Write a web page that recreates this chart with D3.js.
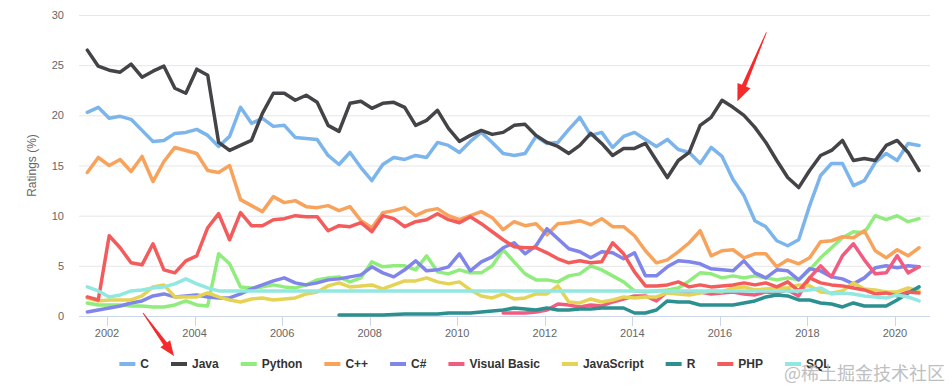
<!DOCTYPE html>
<head>
<meta charset="utf-8" />
<style>
  body { margin: 0; background: #fff; font-family: "Liberation Sans", Arial, sans-serif; }
  svg { display: block; }
  .axis-label { font-size: 11px; fill: #666; }
  .legend-text { font-size: 12px; font-weight: bold; fill: #333; }
</style>
</head>
<body>
<div id="chart-area"></div>
<script src="https://d3js.org/d3.v7.min.js"></script>
<script>
// TIOBE ratings (%), one value per quarter, June 2001 .. June 2020
const languages = ['C', 'Java', 'Python', 'C++', 'C#', 'Visual Basic', 'JavaScript', 'R', 'PHP', 'SQL'];
const colors = ['#7cb5ec', '#434348', '#90ed7d', '#f7a35c', '#8085e9', '#f15c80', '#e4d354', '#2b908f', '#f45b5b', '#91e8e1'];
const firstQuarter = 2001.55;
const quarterCount = 77;

const cRatings = [20.3,20.8,19.7,19.9,19.6,18.5,17.4,17.5,18.2,18.3,
  18.6,18.0,16.9,17.9,20.8,19.2,19.7,18.9,19.0,17.8,
  17.7,17.6,16.0,15.1,16.3,14.8,13.5,15.1,15.8,15.6,
  16.0,15.8,17.3,17.0,16.3,17.4,18.3,17.3,16.2,16.0,
  16.2,17.9,17.2,17.3,18.6,19.8,18.0,18.3,16.8,17.9,
  18.3,17.6,16.9,17.6,16.6,16.3,15.2,16.8,15.9,13.6,
  12.0,9.5,8.9,7.5,7.0,7.6,11.0,14.0,15.2,15.2,
  13.0,13.5,15.3,16.2,15.5,17.2,17.0];
const javaRatings = [26.5,24.9,24.5,24.3,25.1,23.8,24.4,24.9,22.7,22.2,
  24.6,24.0,17.3,16.5,17.0,17.5,20.2,22.2,22.2,21.5,
  22.0,21.3,19.0,18.4,21.2,21.4,20.7,21.2,21.3,20.8,
  19.0,19.5,20.5,18.7,17.4,18.0,18.5,18.1,18.3,19.0,
  19.1,18.0,17.3,16.9,16.2,17.0,18.2,17.2,16.0,16.7,
  16.7,17.2,15.5,13.8,15.5,16.3,19.0,19.8,21.5,20.8,
  20.0,18.8,17.3,15.5,13.8,12.8,14.5,16.0,16.5,17.5,
  15.5,15.7,15.5,17.0,17.5,16.3,14.5];
const pythonRatings = [1.3,1.1,1.1,1.1,1.0,1.0,0.9,0.9,1.1,1.5,
  1.1,1.0,6.2,5.2,2.9,2.8,2.9,3.1,2.9,2.8,
  3.1,3.6,3.8,3.9,3.4,3.8,5.4,4.9,5.0,5.0,
  4.6,6.0,4.4,4.2,4.6,4.3,4.3,5.0,6.6,5.4,
  4.2,3.6,3.6,3.4,4.0,4.2,5.0,4.6,4.0,3.4,
  2.5,2.4,2.5,2.6,2.8,3.5,4.3,4.2,3.8,4.0,
  3.8,4.0,3.8,3.6,3.8,3.6,4.6,5.8,6.8,7.8,
  8.4,8.3,10.0,9.6,10.0,9.4,9.7];
const cppRatings = [14.3,15.8,15.0,15.6,14.4,15.9,13.4,15.4,16.8,16.5,
  16.2,14.5,14.3,15.0,11.6,11.0,10.4,11.9,11.3,11.5,
  10.9,10.8,11.0,10.5,10.9,9.5,8.8,10.3,10.5,10.8,
  10.0,10.5,10.7,10.0,9.6,10.0,10.4,9.8,8.6,9.4,
  9.0,9.2,8.1,9.2,9.3,9.5,9.1,9.7,8.9,8.9,
  8.0,6.5,5.3,5.6,6.4,7.3,8.5,6.0,6.5,6.6,
  5.8,6.2,6.2,4.9,5.6,5.2,5.8,7.4,7.5,7.9,
  7.8,8.5,6.5,5.8,6.6,6.0,6.8];
const csharpRatings = [0.4,0.6,0.8,1.0,1.3,1.5,2.0,2.2,1.9,2.0,
  2.1,1.9,1.8,1.8,2.2,2.7,3.1,3.5,3.8,3.3,
  3.1,3.3,3.6,3.7,3.9,4.1,4.9,4.3,3.9,4.6,
  5.5,4.5,4.6,4.9,6.2,4.5,5.4,5.9,6.8,7.3,
  6.2,7.0,8.7,7.7,6.7,6.4,5.8,6.4,6.3,5.7,
  6.3,4.0,4.0,4.9,5.5,5.4,5.2,4.7,4.6,4.5,
  5.5,4.3,3.8,4.6,4.5,3.6,4.7,4.5,3.9,3.7,
  3.2,3.8,4.8,5.0,4.8,5.0,4.9];
const vbRatings = [null,null,null,null,null,null,null,null,null,null,
  null,null,null,null,null,null,null,null,null,null,
  null,null,null,null,null,null,null,null,null,null,
  null,null,null,null,null,null,null,null,0.3,0.3,
  0.3,0.4,0.6,1.2,1.1,0.9,1.1,1.0,1.4,1.7,
  2.0,2.0,1.5,2.4,2.3,2.2,2.4,2.2,2.3,2.4,
  2.2,2.1,2.4,2.3,2.6,2.0,3.8,5.0,3.9,6.0,
  7.2,5.6,4.2,4.3,6.0,4.3,4.9];
const jsRatings = [1.8,1.5,1.6,1.6,1.6,2.0,2.9,3.1,1.9,1.9,
  1.9,2.3,1.9,1.6,1.4,1.7,1.8,1.6,1.7,1.8,
  2.2,2.4,3.0,3.3,2.9,3.0,3.1,2.7,3.1,3.5,
  3.5,3.8,3.4,3.2,3.4,2.6,2.0,1.8,2.2,1.7,
  1.8,2.2,2.2,3.0,1.4,1.3,1.7,1.4,1.6,1.9,
  1.8,1.9,1.9,2.3,2.2,2.1,2.3,2.5,2.4,2.8,
  2.9,2.6,2.7,2.8,2.8,3.1,3.0,2.4,2.3,2.5,
  3.3,2.7,2.6,2.4,2.4,2.8,2.5];
const rRatings = [null,null,null,null,null,null,null,null,null,null,
  null,null,null,null,null,null,null,null,null,null,
  null,null,null,0.1,0.1,0.1,0.1,0.1,0.15,0.2,
  0.2,0.2,0.2,0.3,0.3,0.3,0.4,0.5,0.6,0.8,
  0.7,0.6,0.8,0.6,0.6,0.7,0.7,0.8,0.8,0.8,
  0.3,0.3,0.6,1.5,1.4,1.4,1.1,1.1,1.1,1.1,
  1.3,1.5,1.9,2.1,2.0,1.6,1.6,1.3,1.2,0.9,
  1.3,1.0,1.0,1.0,1.6,2.3,2.9];
const phpRatings = [1.9,1.6,8.0,6.8,5.3,5.1,7.2,4.6,4.3,5.5,
  6.0,8.8,10.2,7.6,10.3,9.0,9.0,9.6,9.7,10.0,
  9.9,9.9,8.5,9.0,8.9,9.3,8.4,10.0,9.7,8.9,
  9.4,9.6,10.2,9.6,9.3,9.9,9.2,8.4,7.6,6.9,
  6.8,6.8,6.3,5.7,5.3,5.5,5.3,5.4,7.3,6.2,
  4.4,3.0,3.0,3.1,3.4,2.9,3.1,2.9,3.0,3.1,
  3.3,3.1,3.3,2.9,3.4,2.5,3.8,3.3,3.1,3.0,
  2.8,2.6,2.2,2.3,2.0,2.4,2.3];
const sqlRatings = [2.9,2.5,1.9,2.1,2.5,2.6,2.8,2.9,3.2,3.7,
  3.2,2.8,2.5,2.5,2.5,2.5,2.5,2.5,2.5,2.5,
  2.5,2.5,2.5,2.5,2.5,2.5,2.5,2.5,2.5,2.5,
  2.5,2.5,2.5,2.5,2.5,2.5,2.5,2.5,2.5,2.5,
  2.5,2.5,2.5,2.5,2.5,2.5,2.5,2.5,2.5,2.5,
  2.5,2.5,2.5,2.5,2.5,2.5,2.5,2.5,2.5,2.5,
  2.5,2.5,2.5,2.5,2.5,2.5,2.6,2.8,2.2,2.3,
  2.2,2.0,1.9,1.8,2.1,1.9,1.5];

const yTicks = [0, 5, 10, 15, 20, 25, 30];
const xTicks = [2002, 2004, 2006, 2008, 2010, 2012, 2014, 2016, 2018, 2020];
const javaPeak = { year: 2016.4, rating: 21.0 };

const allRatings = [cRatings, javaRatings, pythonRatings, cppRatings, csharpRatings,
  vbRatings, jsRatings, rRatings, phpRatings, sqlRatings];
const quarters = d3.range(quarterCount).map(i => firstQuarter + i * 0.25);

const W = 952, H = 388;
const plot = { left: 79, right: 930, top: 15, bottom: 316 };

const svg = d3.select('#chart-area').append('svg').attr('width', W).attr('height', H);

const x = d3.scaleLinear().domain([2001.36, 2020.8]).range([plot.left, plot.right]);
const y = d3.scaleLinear().domain([0, 30]).range([plot.bottom, plot.top]);

// grid
svg.append('g').selectAll('line').data(yTicks).join('line')
  .attr('x1', plot.left).attr('x2', plot.right)
  .attr('y1', d => y(d) + 0.5).attr('y2', d => y(d) + 0.5)
  .attr('stroke', '#e6e6e6');

svg.append('g').selectAll('text').data(yTicks).join('text')
  .attr('class', 'axis-label')
  .attr('x', 64).attr('y', d => y(d) + 4)
  .attr('text-anchor', 'end')
  .text(d => d);

svg.append('text')
  .attr('class', 'axis-label')
  .attr('transform', `translate(36,${(plot.top + plot.bottom) / 2}) rotate(-90)`)
  .attr('text-anchor', 'middle')
  .style('font-size', '12px')
  .text('Ratings (%)');

// x axis
svg.append('line')
  .attr('x1', plot.left).attr('x2', plot.right)
  .attr('y1', plot.bottom + 0.5).attr('y2', plot.bottom + 0.5)
  .attr('stroke', '#ccd6eb');
svg.append('g').selectAll('line').data(xTicks).join('line')
  .attr('x1', d => Math.round(x(d)) + 0.5).attr('x2', d => Math.round(x(d)) + 0.5)
  .attr('y1', plot.bottom).attr('y2', plot.bottom + 10)
  .attr('stroke', '#ccd6eb');
svg.append('g').selectAll('text').data(xTicks).join('text')
  .attr('class', 'axis-label')
  .attr('x', d => x(d)).attr('y', plot.bottom + 21)
  .attr('text-anchor', 'middle')
  .text(d => d);

// series
const line = d3.line()
  .defined(d => d[1] != null)
  .x(d => x(d[0]))
  .y(d => y(d[1]));

svg.append('g').selectAll('path').data(allRatings).join('path')
  .attr('d', vals => line(vals.map((v, i) => [quarters[i], v])))
  .attr('fill', 'none')
  .attr('stroke', (d, i) => colors[i])
  .attr('stroke-width', 3.5)
  .attr('stroke-linejoin', 'round')
  .attr('stroke-linecap', 'round');

// legend
const legendY = 364;
const legend = svg.append('g');
const items = legend.selectAll('g').data(languages).join('g');
items.append('line')
  .attr('x1', 0).attr('x2', 16)
  .attr('y1', 0).attr('y2', 0)
  .attr('stroke', (d, i) => colors[i])
  .attr('stroke-width', 4);
items.append('text')
  .attr('class', 'legend-text')
  .attr('x', 21).attr('y', 4)
  .text(d => d);

let pos = 0;
const offsets = [];
items.each(function () {
  offsets.push(pos);
  pos += 21 + this.querySelector('text').getComputedTextLength() + 22;
});
const legendWidth = pos - 22;
const legendX = 475 - legendWidth / 2;
items.attr('transform', (d, i) => `translate(${legendX + offsets[i]},${legendY})`);

// red annotation arrows
function arrow(x1, y1, x2, y2, headLen, headHalf) {
  const len = Math.hypot(x2 - x1, y2 - y1);
  const ux = (x2 - x1) / len, uy = (y2 - y1) / len;
  const nx = -uy, ny = ux;
  const bx = x2 - ux * headLen, by = y2 - uy * headLen;
  const pts = [
    [x1 + nx * 0.4, y1 + ny * 0.4],
    [bx + nx * 2.2, by + ny * 2.2],
    [bx + nx * headHalf, by + ny * headHalf],
    [x2, y2],
    [bx - nx * headHalf, by - ny * headHalf],
    [bx - nx * 2.2, by - ny * 2.2],
    [x1 - nx * 0.4, y1 - ny * 0.4]
  ];
  svg.append('path')
    .attr('d', 'M' + pts.map(p => p.join(',')).join('L') + 'Z')
    .attr('fill', '#f62a2a');
}

const javaX = legendX + offsets[1];
arrow(javaX - 28, legendY - 51, javaX + 3, legendY - 8, 15, 6);

const peakX = x(javaPeak.year), peakY = y(javaPeak.rating) - 4;
arrow(peakX + 29, peakY - 69, peakX, peakY, 17, 7);

// watermark
svg.append('text')
  .attr('x', 945).attr('y', 380)
  .attr('text-anchor', 'end')
  .style('font-family', '"Noto Sans CJK SC", sans-serif')
  .style('font-size', '18px')
  .attr('fill', '#b5b5b5')
  .attr('opacity', 0.85)
  .text('@稀土掘金技术社区');
</script>
</body>
